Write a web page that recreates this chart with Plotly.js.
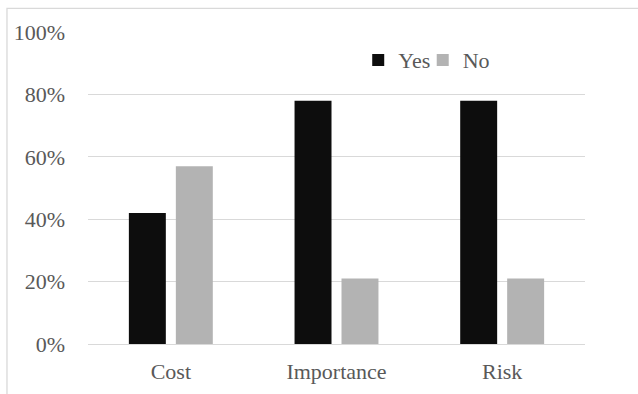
<!DOCTYPE html>
<html>
<head>
<meta charset="utf-8">
<script src="https://cdn.plot.ly/plotly-3.0.1.min.js"></script>
<style>
  html, body { margin: 0; padding: 0; background: #ffffff; }
  #chart { width: 638px; height: 394px; }
</style>
</head>
<body>
<div id="chart"></div>
<script>
// Survey answers per topic, in percent
const categories = ["Cost", "Importance", "Risk"];
const yesValues = [42, 78, 78];
const noValues = [57, 21, 21];
const yTickValues = [0, 20, 40, 60, 80, 100];
const yTickLabels = ["0%", "20%", "40%", "60%", "80%", "100%"];

const textColor = "#595959";
const gridColor = "#d9d9d9";
const serif = "Times New Roman";

const traces = [
  {
    type: "bar",
    name: "Yes",
    x: categories,
    y: yesValues,
    marker: { color: "#0d0d0d" },
    legend: "legend",
    hoverinfo: "x+y+name"
  },
  {
    type: "bar",
    name: "No",
    x: categories,
    y: noValues,
    marker: { color: "#b3b3b3" },
    legend: "legend2",
    hoverinfo: "x+y+name"
  }
];

// one legend box per series so the two entries sit close together
const legendBase = {
  orientation: "h",
  xanchor: "left",
  y: 0.91,
  yanchor: "middle",
  bgcolor: "rgba(0,0,0,0)",
  font: { family: serif, size: 22, color: textColor }
};

const layout = {
  width: 638,
  height: 394,
  margin: { l: 88, r: 53, t: 32, b: 50, pad: 0 },
  paper_bgcolor: "#ffffff",
  plot_bgcolor: "#ffffff",
  font: { family: serif, size: 22, color: textColor },
  barmode: "group",
  bargap: 0.433,
  bargroupgap: 0.213,
  showlegend: true,
  legend: Object.assign({}, legendBase, { x: 0.5437 }),
  legend2: Object.assign({}, legendBase, { x: 0.6735 }),
  xaxis: {
    type: "category",
    showgrid: false,
    showline: false,
    zeroline: false,
    ticks: "",
    ticklabelstandoff: 12,
    tickfont: { family: serif, size: 22, color: textColor }
  },
  yaxis: {
    range: [0, 100],
    tickvals: yTickValues,
    ticktext: yTickLabels,
    showgrid: true,
    gridcolor: gridColor,
    gridwidth: 1,
    zeroline: true,
    zerolinecolor: gridColor,
    zerolinewidth: 1,
    showline: false,
    ticks: "",
    ticklabelstandoff: 22,
    tickfont: { family: serif, size: 22, color: textColor }
  },
  shapes: [
    // chart frame (top and left edges)
    {
      type: "path",
      xref: "paper",
      yref: "paper",
      path: "M -0.163,-0.2 L -0.163,1.076 L 1.2,1.076",
      line: { color: "#d9d9d9", width: 1.3 }
    }
  ]
};

Plotly.newPlot("chart", traces, layout, { displayModeBar: false, staticPlot: true });
</script>
</body>
</html>
